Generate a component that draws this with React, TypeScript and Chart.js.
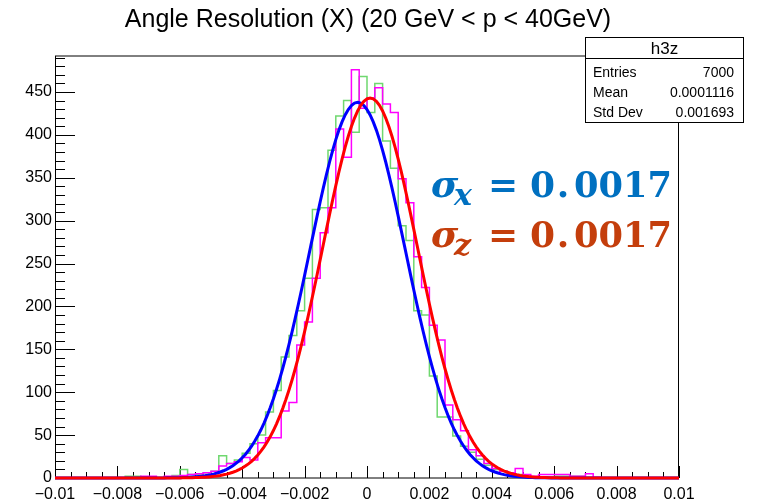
import React, { useEffect, useRef } from "react";
import { Chart, registerables } from "chart.js";

Chart.register(...registerables);

// ---- Axis definitions ----
const X_MIN = -0.01;
const X_MAX = 0.01;
const BIN_WIDTH = 0.00025; // 80 bins
const Y_MAX = 492;
const X_MINOR_STEP = 0.0005;
const Y_MINOR_STEP = 10;

const xTickValues = [-0.01, -0.008, -0.006, -0.004, -0.002, 0, 0.002, 0.004, 0.006, 0.008, 0.01];
const xTickLabels = ["\u22120.01", "\u22120.008", "\u22120.006", "\u22120.004", "\u22120.002", "0", "0.002", "0.004", "0.006", "0.008", "0.01"];
const yTickValues = [0, 50, 100, 150, 200, 250, 300, 350, 400, 450];
const yTickLabels = ["0", "50", "100", "150", "200", "250", "300", "350", "400", "450"];

// ---- Histogram contents (80 bins from -0.01 to 0.01) ----
const greenCounts = [
  0, 0, 0, 0, 0, 0, 0, 0, 0, 2,
  2, 1, 1, 0, 1, 3, 10, 4, 4, 6,
  8, 26, 17, 21, 29, 40, 50, 77, 102, 141,
  166, 195, 233, 313, 315, 382, 422, 440, 403, 468,
  426, 460, 393, 361, 294, 277, 195, 190, 119, 71,
  71, 49, 37, 30, 22, 15, 10, 8, 6, 4,
  2, 1, 1, 1, 2, 2, 2, 2, 1, 0,
  0, 0, 0, 0, 0, 0, 0, 0, 0, 0,
];

const magentaCounts = [
  0, 0, 0, 0, 0, 0, 0, 0, 0, 0,
  0, 2, 2, 0, 2, 2, 3, 4, 5, 6,
  8, 14, 17, 19, 24, 21, 41, 47, 47, 78,
  88, 155, 182, 233, 286, 315, 407, 374, 476, 431,
  443, 455, 436, 426, 349, 321, 258, 222, 178, 161,
  85, 68, 55, 33, 26, 17, 11, 8, 6, 11,
  4, 2, 4, 4, 4, 4, 2, 2, 5, 1,
  0, 0, 0, 0, 0, 0, 0, 0, 0, 0,
];

// ---- Gaussian fit parameters ----
const blueFit = { amplitude: 438, mean: -0.0003, sigma: 0.00153 };
const redFit = { amplitude: 443, mean: 0.0001, sigma: 0.00152 };
const CURVE_SAMPLES = 200;

// ---- Texts ----
const titleText = "Angle Resolution (X) (20 GeV < p < 40GeV)";
const statsName = "h3z";
const statsLabels = ["Entries", "Mean", "Std Dev"];
const statsValues = ["7000", "0.0001116", "0.001693"];
const sigmaLines = [
  { sub: "x", value: "0017", color: "#0070C0" },
  { sub: "z", value: "0017", color: "#C43E0C" },
];

function histPoints(counts: number[]) {
  const pts: { x: number; y: number }[] = [];
  counts.forEach((c, k) => {
    const x0 = X_MIN + k * BIN_WIDTH;
    pts.push({ x: x0, y: c }, { x: x0 + BIN_WIDTH, y: c });
  });
  return pts;
}

function fitPoints(p: { amplitude: number; mean: number; sigma: number }) {
  const pts: { x: number; y: number }[] = [];
  for (let i = 0; i <= CURVE_SAMPLES; i++) {
    const x = X_MIN + ((X_MAX - X_MIN) * i) / CURVE_SAMPLES;
    pts.push({ x, y: p.amplitude * Math.exp(-0.5 * ((x - p.mean) / p.sigma) ** 2) });
  }
  return pts;
}

const rootStyle = {
  id: "rootStyle",
  beforeDatasetsDraw(chart: any) {
    const { ctx, chartArea, scales } = chart;
    const { left, right, top, bottom } = chartArea;
    const xs = scales.x;
    const ys = scales.y;
    ctx.save();
    ctx.lineWidth = 1;
    // frame
    ctx.strokeStyle = "#000";
    ctx.beginPath();
    ctx.moveTo(left, top);
    ctx.lineTo(right, top);
    ctx.moveTo(left, bottom);
    ctx.lineTo(right, bottom);
    ctx.stroke();
    ctx.beginPath();
    ctx.moveTo(Math.round(left) + 0.5, top);
    ctx.lineTo(Math.round(left) + 0.5, bottom);
    ctx.moveTo(Math.round(right) - 0.5, top);
    ctx.lineTo(Math.round(right) - 0.5, bottom);
    ctx.stroke();
    // x ticks
    ctx.beginPath();
    const nx = Math.round((X_MAX - X_MIN) / X_MINOR_STEP);
    for (let i = 0; i <= nx; i++) {
      const v = X_MIN + i * X_MINOR_STEP;
      const px = Math.round(xs.getPixelForValue(v)) + 0.5;
      const len = i % 4 === 0 ? 12 : 6;
      ctx.moveTo(px, bottom);
      ctx.lineTo(px, bottom - len);
    }
    // y ticks
    for (let v = 0; v <= Y_MAX; v += Y_MINOR_STEP) {
      const py = Math.round(ys.getPixelForValue(v)) + 0.5;
      const len = v % 50 === 0 ? 20 : 10;
      ctx.moveTo(left, py);
      ctx.lineTo(left + len, py);
    }
    ctx.stroke();
    ctx.restore();
  },
  afterDraw(chart: any) {
    const { ctx } = chart;
    ctx.save();
    // title
    ctx.fillStyle = "#000";
    ctx.font = "25px 'Liberation Sans'";
    ctx.textAlign = "center";
    ctx.textBaseline = "middle";
    ctx.fillText(titleText, 368, 20);

    // stats box
    ctx.fillStyle = "#fff";
    ctx.fillRect(585.5, 37.5, 158, 85);
    ctx.strokeStyle = "#000";
    ctx.lineWidth = 1;
    ctx.strokeRect(585.5, 37.5, 158, 85);
    ctx.beginPath();
    ctx.moveTo(585.5, 58.5);
    ctx.lineTo(743.5, 58.5);
    ctx.stroke();
    ctx.fillStyle = "#000";
    ctx.font = "17px 'Liberation Sans'";
    ctx.textAlign = "center";
    ctx.textBaseline = "alphabetic";
    ctx.fillText(statsName, 664.5, 54);
    ctx.font = "14px 'Liberation Sans'";
    statsLabels.forEach((lab, i) => {
      const by = 77 + i * 20;
      ctx.textAlign = "left";
      ctx.fillText(lab, 593, by);
      ctx.textAlign = "right";
      ctx.fillText(statsValues[i], 734, by);
    });

    // sigma annotations
    sigmaLines.forEach((ln, i) => {
      const base = 197 + i * 50;
      ctx.fillStyle = ln.color;
      ctx.textBaseline = "alphabetic";
      ctx.textAlign = "left";
      ctx.font = "bold italic 37px 'DejaVu Serif'";
      ctx.fillText("\u03C3", 431, base);
      ctx.font = "bold italic 30px 'DejaVu Serif'";
      ctx.fillText(ln.sub, 454, base + 8);
      ctx.font = "bold 36px 'DejaVu Serif'";
      ctx.textAlign = "center";
      ctx.fillText("=", 503, base);
      ctx.textAlign = "left";
      ctx.fillText("0", 530, base);
      ctx.textAlign = "center";
      ctx.fillText(".", 563, base);
      ctx.textAlign = "right";
      ctx.fillText(ln.value, 672, base, 98);
    });
    ctx.restore();
  },
};

export default function App() {
  const ref = useRef<HTMLCanvasElement>(null);
  useEffect(() => {
    document.body.style.margin = "0";
    const chart = new Chart(ref.current as HTMLCanvasElement, {
      type: "line",
      data: {
        datasets: [
          { label: "fit z", data: fitPoints(redFit), borderColor: "#FF0000", borderWidth: 3, pointRadius: 0, clip: false as any },
          { label: "fit x", data: fitPoints(blueFit), borderColor: "#0000FF", borderWidth: 3, pointRadius: 0, clip: false as any },
          { label: "h3z", data: histPoints(magentaCounts), borderColor: "#FF00FF", borderWidth: 1.5, pointRadius: 0, clip: false as any },
          { label: "h3x", data: histPoints(greenCounts), borderColor: "#6FD86F", borderWidth: 1.5, pointRadius: 0, clip: false as any },
        ],
      },
      options: {
        animation: false,
        responsive: false,
        devicePixelRatio: 1,
        layout: { padding: { top: 56, right: 82, left: 0, bottom: 0 } },
        plugins: { legend: { display: false }, tooltip: { enabled: false }, title: { display: false } },
        scales: {
          x: {
            type: "linear",
            min: X_MIN,
            max: X_MAX,
            grid: { display: false, drawTicks: false },
            border: { display: false },
            afterBuildTicks: (s: any) => {
              s.ticks = xTickValues.map((value) => ({ value }));
            },
            afterFit: (s: any) => {
              s.height = 24;
            },
            ticks: {
              autoSkip: false,
              maxRotation: 0,
              padding: 7,
              color: "#000",
              font: { family: "'Liberation Sans'", size: 16 },
              callback: (_v: any, i: number) => xTickLabels[i],
            },
          },
          y: {
            type: "linear",
            min: 0,
            max: Y_MAX,
            grid: { display: false, drawTicks: false },
            border: { display: false },
            afterBuildTicks: (s: any) => {
              s.ticks = yTickValues.map((value) => ({ value }));
            },
            afterFit: (s: any) => {
              s.width = 55;
            },
            ticks: {
              autoSkip: false,
              padding: 3,
              color: "#000",
              font: { family: "'Liberation Sans'", size: 16 },
              callback: (_v: any, i: number) => yTickLabels[i],
            },
          },
        },
      } as any,
      plugins: [rootStyle],
    });
    return () => chart.destroy();
  }, []);
  return <canvas ref={ref} width={761} height={502} style={{ display: "block", width: 761, height: 502 }} />;
}
